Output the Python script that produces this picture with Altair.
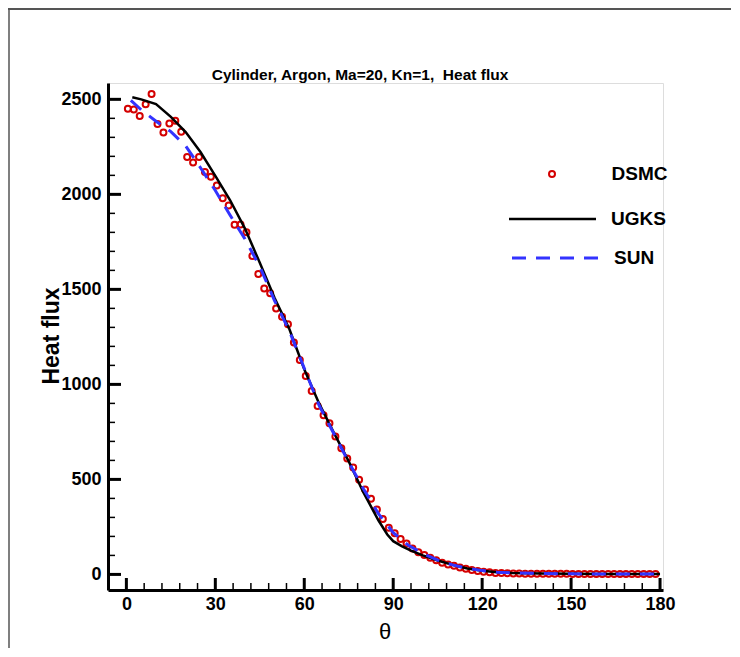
import altair as alt
import pandas as pd

# ---------------- data ----------------
dsmc_theta = [0.5, 2.5, 4.5, 6.5, 8.5, 10.5, 12.5, 14.5, 16.5, 18.5,
              20.5, 22.5, 24.5, 26.5, 28.5, 30.5, 32.5, 34.5, 36.5, 38.5,
              40.5, 42.5, 44.5, 46.5, 48.5, 50.5, 52.5, 54.5, 56.5, 58.5,
              60.5, 62.5, 64.5, 66.5, 68.5, 70.5, 72.5, 74.5, 76.5, 78.5,
              80.5, 82.5, 84.5, 86.5, 88.5, 90.5, 92.5, 94.5, 96.5, 98.5,
              100.5, 102.5, 104.5, 106.5, 108.5, 110.5, 112.5, 114.5, 116.5, 118.5,
              120.5, 122.5, 124.5, 126.5, 128.5, 130.5, 132.5, 134.5, 136.5, 138.5,
              140.5, 142.5, 144.5, 146.5, 148.5, 150.5, 152.5, 154.5, 156.5, 158.5,
              160.5, 162.5, 164.5, 166.5, 168.5, 170.5, 172.5, 174.5, 176.5, 178.5]
dsmc_q = [2451, 2447, 2412, 2474, 2528, 2370, 2326, 2373, 2387, 2330,
          2196, 2168, 2196, 2117, 2093, 2047, 1980, 1942, 1840, 1842,
          1800, 1675, 1581, 1505, 1479, 1400, 1356, 1316, 1221, 1128,
          1044, 965, 886, 838, 795, 726, 664, 610, 562, 498,
          447, 398, 342, 291, 245, 216, 186, 163, 137, 116,
          102, 88, 74, 62, 52, 45, 37, 30, 23, 18,
          14, 11, 8, 7, 6, 5, 5, 4, 4, 4,
          3, 3, 3, 3, 3, 2, 2, 2, 2, 2,
          2, 2, 2, 2, 2, 2, 2, 2, 2, 2]

ugks_theta = [2, 5, 10, 15, 20, 25, 30, 35, 40, 45, 50, 55, 60, 65, 70, 75, 80,
              85, 88, 90, 93, 96, 100, 105, 110, 115, 120, 125, 130, 140, 150,
              160, 170, 180]
ugks_q = [2511, 2500, 2475, 2408, 2328, 2223, 2097, 1969, 1820, 1640, 1455, 1290,
          1080, 900, 745, 595, 430, 285, 210, 175, 148, 125, 100, 73, 50, 31,
          19, 12, 8, 5, 3, 2, 2, 2]

sun_theta = [1.5, 5, 10, 15, 20, 25, 30, 35, 40, 45, 50, 55, 60, 65, 70, 75, 80,
             85, 90, 95, 100, 105, 110, 115, 120, 125, 130, 140, 150, 160, 170, 180]
sun_q = [2495, 2445, 2385, 2330, 2255, 2140, 2020, 1890, 1765, 1620, 1440, 1280,
         1085, 890, 740, 590, 450, 320, 220, 155, 110, 75, 50, 32, 20, 12, 8,
         5, 3, 2, 2, 2]

x_major = [0, 30, 60, 90, 120, 150, 180]
x_minor = [6, 12, 18, 24, 36, 42, 48, 54, 66, 72, 78, 84, 96, 102, 108, 114,
           126, 132, 138, 144, 156, 162, 168, 174]
y_major = [0, 500, 1000, 1500, 2000, 2500]
y_minor = [100, 200, 300, 400, 600, 700, 800, 900, 1100, 1200, 1300, 1400,
           1600, 1700, 1800, 1900, 2100, 2200, 2300, 2400]

title_text = ["Cylinder, Argon, Ma=20, Kn=1,\u00a0 Heat flux"]
x_title = ["\u03b8"]
y_title = ["Heat flux"]
legend_labels = ["DSMC", "UGKS", "SUN"]

# ---------------- styling ----------------
W, H = 555, 507
RED = "#d40000"
BLUE = "#3333ff"
FONT = "Liberation Sans"

xs = alt.Scale(domain=[-6.2, 181], nice=False, zero=False)
ys = alt.Scale(domain=[-82, 2586], nice=False, zero=False)

x_axis = alt.Axis(values=x_major, format="d", labelFont=FONT, labelFontWeight="bold",
                  labelFontSize=18, labelColor="black", ticks=False, tickSize=0,
                  domainColor="black", domainWidth=3, labelPadding=5, grid=False,
                  labelOverlap=False, labelFlush=False)
y_axis = alt.Axis(values=y_major, format="d", labelFont=FONT, labelFontWeight="bold",
                  labelFontSize=18, labelColor="black", ticks=False, tickSize=0,
                  domainColor="black", domainWidth=3, labelPadding=7, grid=False,
                  labelOverlap=False, labelFlush=False)


def X(field):
    return alt.X(f"{field}:Q", scale=xs, axis=x_axis, title=None)


def Y(field):
    return alt.Y(f"{field}:Q", scale=ys, axis=y_axis, title=None)


dsmc_df = pd.DataFrame({"x": dsmc_theta, "y": dsmc_q})
ugks_df = pd.DataFrame({"x": ugks_theta, "y": ugks_q})
sun_df = pd.DataFrame({"x": sun_theta, "y": sun_q})

dsmc = alt.Chart(dsmc_df).mark_point(shape="circle", filled=False, color=RED,
                                      strokeWidth=2, size=36, opacity=1).encode(x=X("x"), y=Y("y"))
ugks = alt.Chart(ugks_df).mark_line(color="black", strokeWidth=2.5).encode(x=X("x"), y=Y("y"))
sun = alt.Chart(sun_df).mark_line(color=BLUE, strokeWidth=3, strokeDash=[14, 10]).encode(
    x=X("x"), y=Y("y"))

# inward ticks
xmaj = alt.Chart(pd.DataFrame({"x": x_major})).mark_rule(color="black", strokeWidth=3).encode(
    x=X("x"), y=alt.value(H), y2=alt.value(H - 12))
xmin = alt.Chart(pd.DataFrame({"x": x_minor})).mark_rule(color="black", strokeWidth=1.5).encode(
    x=X("x"), y=alt.value(H), y2=alt.value(H - 7))
ymaj = alt.Chart(pd.DataFrame({"y": y_major})).mark_rule(color="black", strokeWidth=3).encode(
    y=Y("y"), x=alt.value(0), x2=alt.value(13))
ymin = alt.Chart(pd.DataFrame({"y": y_minor})).mark_rule(color="black", strokeWidth=1.5).encode(
    y=Y("y"), x=alt.value(0), x2=alt.value(7))

# titles
title = alt.Chart(pd.DataFrame({"t": title_text})).mark_text(
    font=FONT, fontWeight="bold", fontSize=15.5, color="black", align="center",
    baseline="middle").encode(text="t:N", x=alt.value(252), y=alt.value(-8))
xt = alt.Chart(pd.DataFrame({"t": x_title})).mark_text(
    font=FONT, fontSize=22, color="black", align="center", baseline="middle").encode(
    text="t:N", x=alt.value(277), y=alt.value(549))
yt = alt.Chart(pd.DataFrame({"t": y_title})).mark_text(
    font=FONT, fontWeight="bold", fontSize=23, color="black", align="center",
    baseline="middle", angle=270).encode(text="t:N", x=alt.value(-56), y=alt.value(253))

# legend
leg_text = alt.Chart(pd.DataFrame({"t": legend_labels, "py": [91, 135.5, 174.5],
                                   "px": [503.5, 503, 506]})).mark_text(
    font=FONT, fontWeight="bold", fontSize=19, color="black", align="left",
    baseline="middle").encode(text="t:N", x=alt.X("px:Q", scale=None), y=alt.Y("py:Q", scale=None))
leg_pt = alt.Chart(pd.DataFrame({"t": ["DSMC"]})).mark_point(
    shape="circle", filled=False, color=RED, strokeWidth=2, size=36, opacity=1).encode(
    x=alt.value(444), y=alt.value(91))
leg_ugks = alt.Chart(pd.DataFrame({"t": ["UGKS"]})).mark_rule(color="black", strokeWidth=2.5).encode(
    x=alt.value(401), x2=alt.value(488), y=alt.value(136))
leg_sun = alt.Chart(pd.DataFrame({"t": ["SUN"]})).mark_rule(
    color=BLUE, strokeWidth=3, strokeDash=[14, 10]).encode(
    x=alt.value(404), x2=alt.value(492), y=alt.value(175))

# outer frame (top and left edges)
frame_top = alt.Chart(pd.DataFrame({"t": ["f"]})).mark_rule(color="#555555", strokeWidth=2).encode(
    x=alt.value(-100), x2=alt.value(640), y=alt.value(-74))
frame_left = alt.Chart(pd.DataFrame({"t": ["f"]})).mark_rule(color="#555555", strokeWidth=1.5).encode(
    x=alt.value(-99), y=alt.value(-75), y2=alt.value(570))

chart = alt.layer(
    frame_top, frame_left,
    xmin, xmaj, ymin, ymaj,
    dsmc, ugks, sun,
    title, xt, yt,
    leg_pt, leg_ugks, leg_sun, leg_text,
).properties(
    width=W, height=H,
    autosize=alt.AutoSizeParams(type="none"),
    padding={"left": 100, "top": 75, "right": 68, "bottom": 58},
).configure_view(stroke=None).configure(background="white")

chart.save("out.html", embed_options={"renderer": "svg", "actions": False})
